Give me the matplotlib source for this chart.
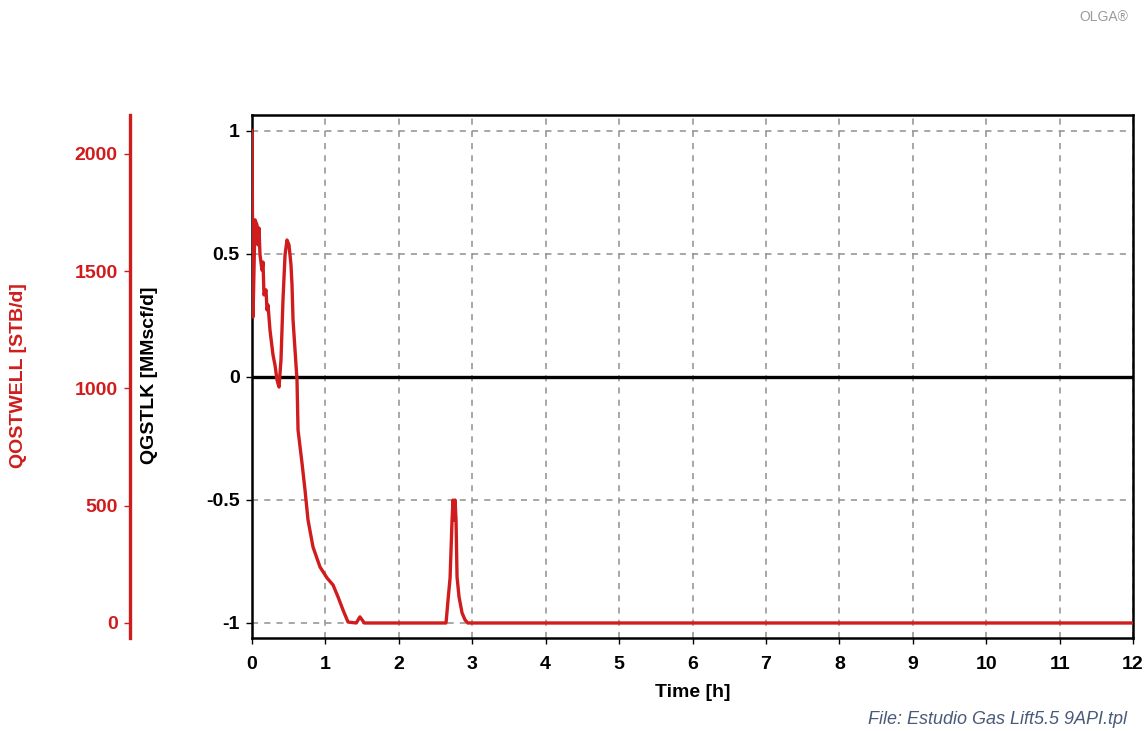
import matplotlib
matplotlib.use("Agg")
import matplotlib.pyplot as plt
import numpy as np

plt.rcParams['font.family'] = ['Liberation Sans', 'DejaVu Sans']

# QOSTWELL oil rate [STB/d] vs time [h]
time_oil = [0.0, 0.014, 0.041, 0.068, 0.082, 0.095, 0.109, 0.136, 0.150, 0.163,
            0.191, 0.204, 0.218, 0.245, 0.286, 0.313, 0.341, 0.368, 0.395, 0.422,
            0.450, 0.477, 0.504, 0.531, 0.545, 0.559, 0.586, 0.613, 0.627, 0.681,
            0.722, 0.763, 0.831, 0.926, 1.022, 1.104, 1.172, 1.240, 1.308, 1.42,
            1.47, 1.53, 2.643, 2.670, 2.698, 2.725, 2.738, 2.752, 2.766, 2.779,
            2.793, 2.820, 2.861, 2.902, 2.94, 12.0]
qostwell = [2098, 1305, 1719, 1697, 1612, 1684, 1569, 1505, 1539, 1399,
            1420, 1335, 1356, 1249, 1143, 1100, 1036, 1006, 1122, 1377,
            1569, 1633, 1612, 1527, 1441, 1292, 1164, 1036, 823, 682,
            567, 439, 324, 239, 192, 162, 111, 55, 4, 0,
            26, 0, 0, 98, 192, 439, 524, 439, 524, 439,
            196, 111, 43, 13, 0, 0]

# QGSTLK gas rate [MMscf/d] vs time [h]
time_gas = [0.0, 0.3, 12.0]
qgstlk = [0.0, 0.0, 0.0]

x_ticks = list(range(0, 13))
gas_ticks = [-1, -0.5, 0, 0.5, 1]
gas_tick_labels = ['-1', '-0.5', '0', '0.5', '1']
oil_ticks = [0, 500, 1000, 1500, 2000]

RED = '#d01c1c'
FS = 14
W, H = 1146, 731

fig = plt.figure(figsize=(W / 100, H / 100), dpi=100)
ax = fig.add_axes([252 / W, 1 - 638 / H, (1133 - 252) / W, (638 - 115) / H])

ax.set_xlim(0, 12)
ax.set_ylim(-1.061, 1.065)
ax.set_xticks(x_ticks)
ax.set_yticks(gas_ticks)
ax.set_yticklabels(gas_tick_labels)
ax.grid(True, color='#909090', linestyle=(0, (4, 4)), linewidth=1.1)
ax.tick_params(direction='out', length=4, width=1, colors='black',
               labelsize=FS)
ax.tick_params(axis='x', pad=9)
ax.tick_params(axis='y', pad=5)
for lab in ax.get_xticklabels() + ax.get_yticklabels():
    lab.set_fontweight('bold')
for sp in ax.spines.values():
    sp.set_linewidth(1.8)
ax.plot(time_gas, qgstlk, color='black', linewidth=2.4, zorder=3)
ax.set_xlabel('Time [h]', fontsize=FS, fontweight='bold', labelpad=8)

# oil rate on its own axis, spine pulled out to the left
ax2 = ax.twinx()
ax2.set_ylim(-64, 2166)
ax2.yaxis.set_ticks_position('left')
ax2.yaxis.set_label_position('left')
ax2.spines['left'].set_position(('axes', (130 - 252) / (1133 - 252)))
ax2.spines['left'].set_color(RED)
ax2.spines['left'].set_linewidth(2.4)
for side in ('right', 'top', 'bottom'):
    ax2.spines[side].set_visible(False)
ax2.set_yticks(oil_ticks)
ax2.tick_params(direction='out', length=4, width=1, colors=RED,
                labelsize=FS, pad=5)
for lab in ax2.get_yticklabels():
    lab.set_fontweight('bold')
ax2.plot(time_oil, qostwell, color=RED, linewidth=2.4, zorder=4)

fig.text(149 / W, 1 - 375 / H, 'QGSTLK [MMscf/d]', rotation=90, ha='center',
         va='center', fontsize=FS, fontweight='bold', color='black')
fig.text(19 / W, 1 - 376 / H, 'QOSTWELL [STB/d]', rotation=90, ha='center',
         va='center', fontsize=FS, fontweight='bold', color=RED)
fig.text(1127 / W, 1 - 720 / H, 'File: Estudio Gas Lift5.5 9API.tpl',
         ha='right', va='center', fontsize=13, style='italic', color='#4a5a78')
fig.text(1128 / W, 1 - 17 / H, 'OLGA\u00ae', ha='right', va='center',
         fontsize=10, color='#9a9a9a')

fig.savefig('out.png', dpi=100)
